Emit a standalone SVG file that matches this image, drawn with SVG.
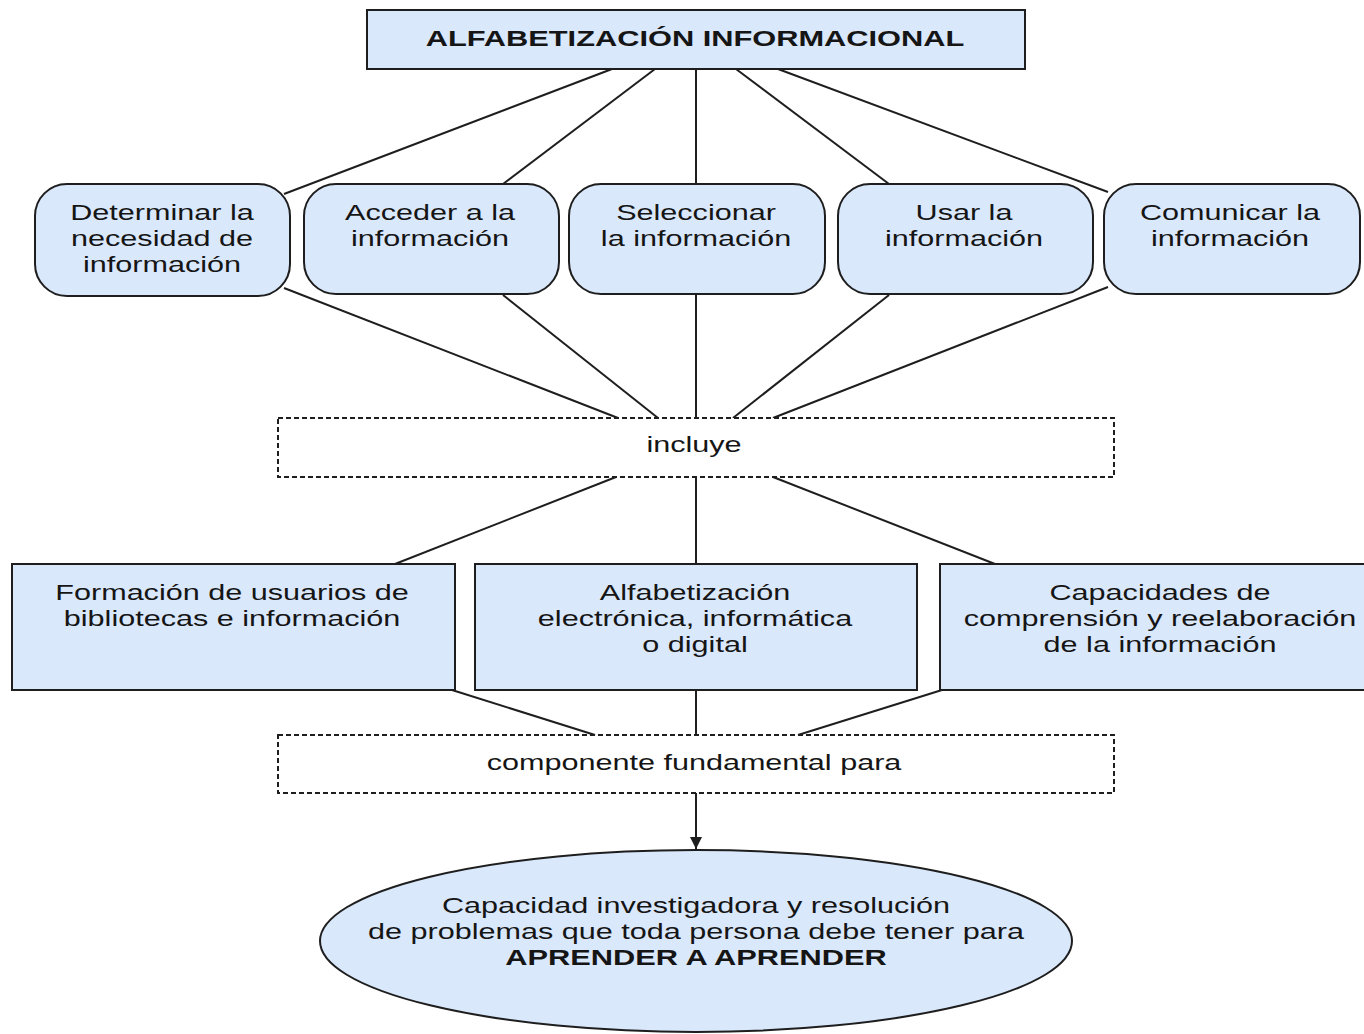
<svg xmlns="http://www.w3.org/2000/svg" width="1364" height="1034" viewBox="0 0 1364 1034">
<style>
.box{fill:#dae8fc;stroke:#1e1e1e;stroke-width:2}
.dash{fill:#ffffff;stroke:#1e1e1e;stroke-width:2;stroke-dasharray:5 3}
.t{font-family:"Liberation Sans",Arial,sans-serif;font-size:22px;fill:#151515;text-anchor:middle}
.b{font-weight:bold}
.c{stroke:#1e1e1e;stroke-width:2;fill:none}
</style>
<defs>
<marker id="arr" viewBox="0 0 10 10" refX="10" refY="5" markerWidth="6" markerHeight="6" markerUnits="strokeWidth" orient="auto">
<path d="M0,0 L10,5 L0,10 z" fill="#1e1e1e"/>
</marker>
</defs>
<rect width="1364" height="1034" fill="#ffffff"/>

<g id="connectors" class="c">
<line x1="612" y1="69" x2="284" y2="194"/>
<line x1="655" y1="69" x2="503" y2="184"/>
<line x1="696" y1="69" x2="696" y2="184"/>
<line x1="736" y1="69" x2="889" y2="184"/>
<line x1="778" y1="69" x2="1108" y2="192"/>
<line x1="284" y1="288" x2="618" y2="418"/>
<line x1="503" y1="295" x2="658" y2="418"/>
<line x1="696" y1="294" x2="696" y2="418"/>
<line x1="889" y1="295" x2="733" y2="418"/>
<line x1="1108" y1="287" x2="773" y2="418"/>
<line x1="616" y1="477" x2="395" y2="564"/>
<line x1="696" y1="477" x2="696" y2="564"/>
<line x1="773" y1="477" x2="995" y2="564"/>
<line x1="452" y1="690" x2="595" y2="735"/>
<line x1="696" y1="690" x2="696" y2="735"/>
<line x1="942" y1="690" x2="798" y2="735"/>
<line x1="696" y1="793" x2="696" y2="849" marker-end="url(#arr)"/>
</g>

<g id="n-top">
<rect class="box" x="367" y="10" width="658" height="59"/>
<text class="t b" transform="translate(695,46) scale(1.40,1)">ALFABETIZACIÓN INFORMACIONAL</text>
</g>

<g id="n-determinar">
<rect class="box" x="35" y="184" width="255" height="112" rx="32" ry="32"/>
<text class="t" transform="translate(162,220) scale(1.39,1)">Determinar la</text>
<text class="t" transform="translate(162,246) scale(1.39,1)">necesidad de</text>
<text class="t" transform="translate(162,272) scale(1.39,1)">información</text>
</g>

<g id="n-acceder">
<rect class="box" x="304" y="184" width="255" height="110" rx="32" ry="32"/>
<text class="t" transform="translate(430,220) scale(1.39,1)">Acceder a la</text>
<text class="t" transform="translate(430,246) scale(1.39,1)">información</text>
</g>

<g id="n-seleccionar">
<rect class="box" x="569" y="184" width="256" height="110" rx="32" ry="32"/>
<text class="t" transform="translate(696,220) scale(1.39,1)">Seleccionar</text>
<text class="t" transform="translate(696,246) scale(1.39,1)">la información</text>
</g>

<g id="n-usar">
<rect class="box" x="838" y="184" width="255" height="110" rx="32" ry="32"/>
<text class="t" transform="translate(964,220) scale(1.39,1)">Usar la</text>
<text class="t" transform="translate(964,246) scale(1.39,1)">información</text>
</g>

<g id="n-comunicar">
<rect class="box" x="1104" y="184" width="256" height="110" rx="32" ry="32"/>
<text class="t" transform="translate(1230,220) scale(1.39,1)">Comunicar la</text>
<text class="t" transform="translate(1230,246) scale(1.39,1)">información</text>
</g>

<g id="n-incluye">
<rect class="dash" x="278" y="418" width="836" height="59"/>
<text class="t" transform="translate(694,452) scale(1.39,1)">incluye</text>
</g>

<g id="n-formacion">
<rect class="box" x="12" y="564" width="443" height="126"/>
<text class="t" transform="translate(232,600) scale(1.39,1)">Formación de usuarios de</text>
<text class="t" transform="translate(232,626) scale(1.39,1)">bibliotecas e información</text>
</g>

<g id="n-alfabetizacion">
<rect class="box" x="475" y="564" width="442" height="126"/>
<text class="t" transform="translate(695,600) scale(1.39,1)">Alfabetización</text>
<text class="t" transform="translate(695,626) scale(1.39,1)">electrónica, informática</text>
<text class="t" transform="translate(695,652) scale(1.39,1)">o digital</text>
</g>

<g id="n-capacidades">
<rect class="box" x="940" y="564" width="440" height="126"/>
<text class="t" transform="translate(1160,600) scale(1.39,1)">Capacidades de</text>
<text class="t" transform="translate(1160,626) scale(1.39,1)">comprensión y reelaboración</text>
<text class="t" transform="translate(1160,652) scale(1.39,1)">de la información</text>
</g>

<g id="n-componente">
<rect class="dash" x="278" y="735" width="836" height="58"/>
<text class="t" transform="translate(694,770) scale(1.39,1)">componente fundamental para</text>
</g>

<g id="n-aprender">
<ellipse class="box" cx="696" cy="941" rx="376" ry="91"/>
<text class="t" transform="translate(696,913) scale(1.39,1)">Capacidad investigadora y resolución</text>
<text class="t" transform="translate(696,939) scale(1.39,1)">de problemas que toda persona debe tener para</text>
<text class="t b" transform="translate(696,965) scale(1.40,1)">APRENDER A APRENDER</text>
</g>
</svg>
